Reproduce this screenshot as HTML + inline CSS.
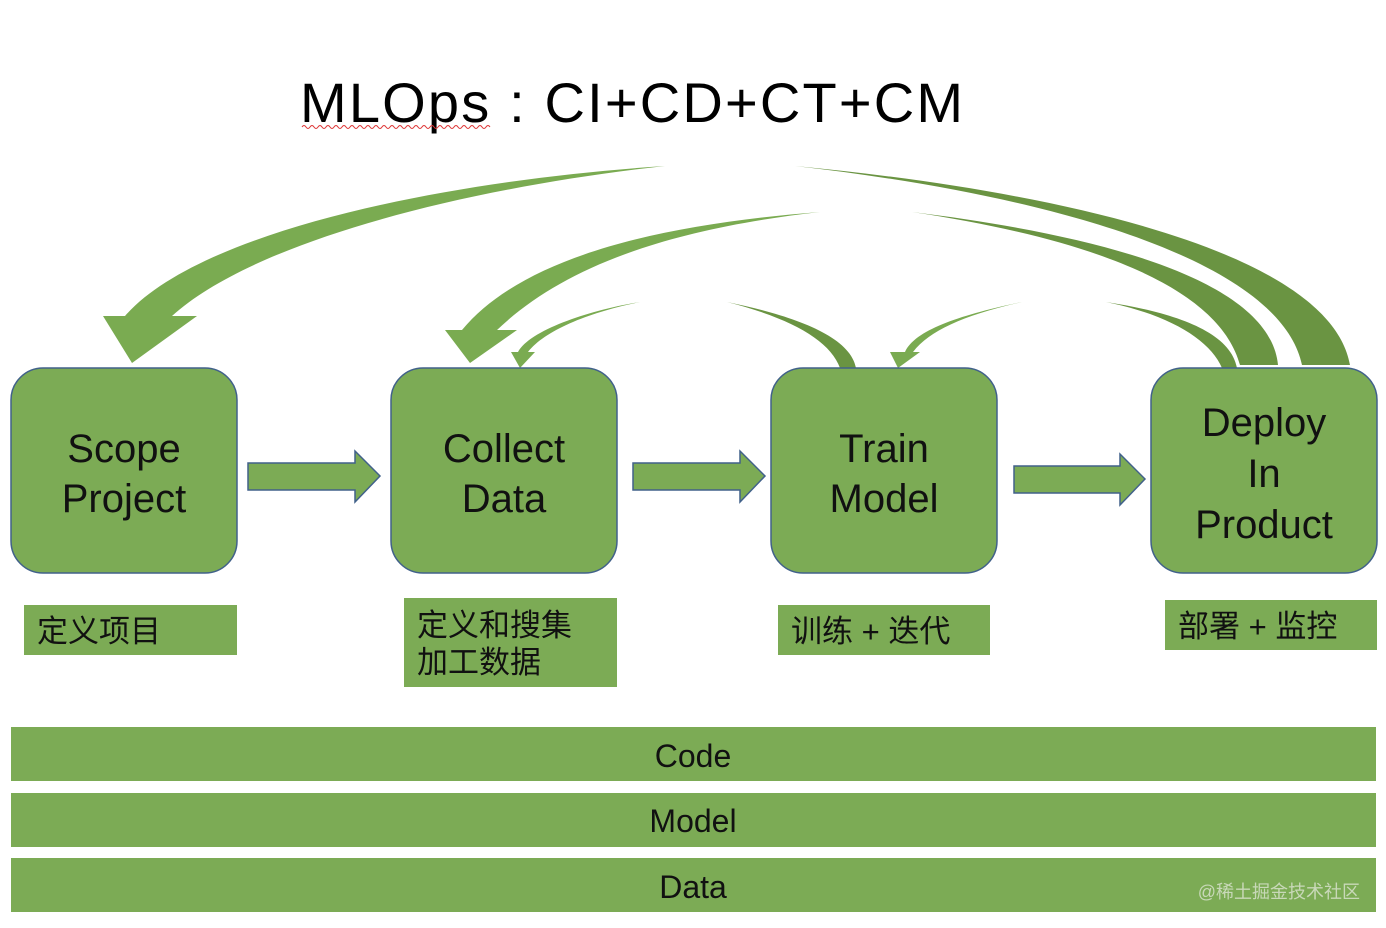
<!DOCTYPE html>
<html><head><meta charset="utf-8"><style>
body{margin:0;background:#fff;}
svg{display:block;}
.t{font-family:"Liberation Sans","Noto Sans CJK SC",sans-serif;}
</style></head><body>
<svg width="1386" height="928" viewBox="0 0 1386 928" xmlns="http://www.w3.org/2000/svg">
<text x="300" y="122" class="t" font-size="56" fill="#000" textLength="663" lengthAdjust="spacing">MLOps : CI+CD+CT+CM</text>
<path d="M302,127 q2,-3 4,0 t4,0 t4,0 t4,0 t4,0 t4,0 t4,0 t4,0 t4,0 t4,0 t4,0 t4,0 t4,0 t4,0 t4,0 t4,0 t4,0 t4,0 t4,0 t4,0 t4,0 t4,0 t4,0 t4,0 t4,0 t4,0 t4,0 t4,0 t4,0 t4,0 t4,0 t4,0 t4,0 t4,0 t4,0 t4,0 t4,0 t4,0 t4,0 t4,0 t4,0 t4,0 t4,0 t4,0 t4,0 t4,0 t4,0" stroke="#d33" fill="none" stroke-width="1"/>
<g fill="#6a9442">
<path d="M795,166 C1050,190 1330,250 1350,365 L1302,365 C1280,260 1050,195 795,166 Z"/>
<path d="M912,212 C1100,235 1270,280 1278,365 L1240,365 C1220,290 1100,240 912,212 Z"/>
<path d="M1106,302 C1170,312 1230,330 1237,368 L1222,368 C1210,340 1170,315 1106,302 Z"/>
<path d="M727,302 C790,315 850,335 856,368 L840,368 C830,340 790,318 727,302 Z"/>
</g>
<g fill="#7aab51">
<path d="M665,166 C450,180 200,230 125,316 L103,316 L132,363 L197,316 L172,316 C250,245 450,190 665,166 Z"/>
<path d="M820,212 C650,225 520,260 462,330 L445,330 L470,363 L517,330 L497,330 C560,270 660,230 820,212 Z"/>
<path d="M640,302 C590,310 530,330 518,352 L511,352 L520,368 L535,352 L528,352 C545,330 590,312 640,302 Z"/>
<path d="M1022,302 C960,315 915,330 905,352 L890,352 L898,368 L920,352 L913,352 C930,330 965,315 1022,302 Z"/>
</g>
<g fill="#7cab55" stroke="#41618a" stroke-width="1.5">
<rect x="11" y="368" width="226" height="205" rx="32"/>
<rect x="391" y="368" width="226" height="205" rx="32"/>
<rect x="771" y="368" width="226" height="205" rx="32"/>
<rect x="1151" y="368" width="226" height="205" rx="32"/>
<path d="M248,463 H355 V451 L380,476 L355,502 V490 H248 Z"/>
<path d="M633,463 H740 V451 L765,476 L740,502 V490 H633 Z"/>
<path d="M1014,466 H1120 V454 L1145,479 L1120,505 V493 H1014 Z"/>
</g>
<g class="t" font-size="40" fill="#111" text-anchor="middle">
<text x="124" y="462">Scope</text><text x="124" y="512">Project</text>
<text x="504" y="462">Collect</text><text x="504" y="512">Data</text>
<text x="884" y="462">Train</text><text x="884" y="512">Model</text>
<text x="1264" y="436">Deploy</text><text x="1264" y="487">In</text><text x="1264" y="538">Product</text>
</g>
<g fill="#7cab55">
<rect x="24" y="605" width="213" height="50"/>
<rect x="404" y="598" width="213" height="89"/>
<rect x="778" y="605" width="212" height="50"/>
<rect x="1165" y="600" width="212" height="50"/>
<rect x="11" y="727" width="1365" height="54"/>
<rect x="11" y="793" width="1365" height="54"/>
<rect x="11" y="858" width="1365" height="54"/>
</g>
<g class="t" font-size="31" fill="#111">
<text x="37" y="642">定义项目</text>
<text x="417" y="636">定义和搜集</text>
<text x="417" y="673">加工数据</text>
<text x="791" y="642">训练 + 迭代</text>
<text x="1178" y="637">部署 + 监控</text>
</g>
<g class="t" font-size="32" fill="#111" text-anchor="middle">
<text x="693" y="767">Code</text>
<text x="693" y="832">Model</text>
<text x="693" y="898">Data</text>
</g>
<text x="1360" y="898" class="t" font-size="18" fill="#c8d8b8" text-anchor="end">@稀土掘金技术社区</text>
</svg>
</body></html>
